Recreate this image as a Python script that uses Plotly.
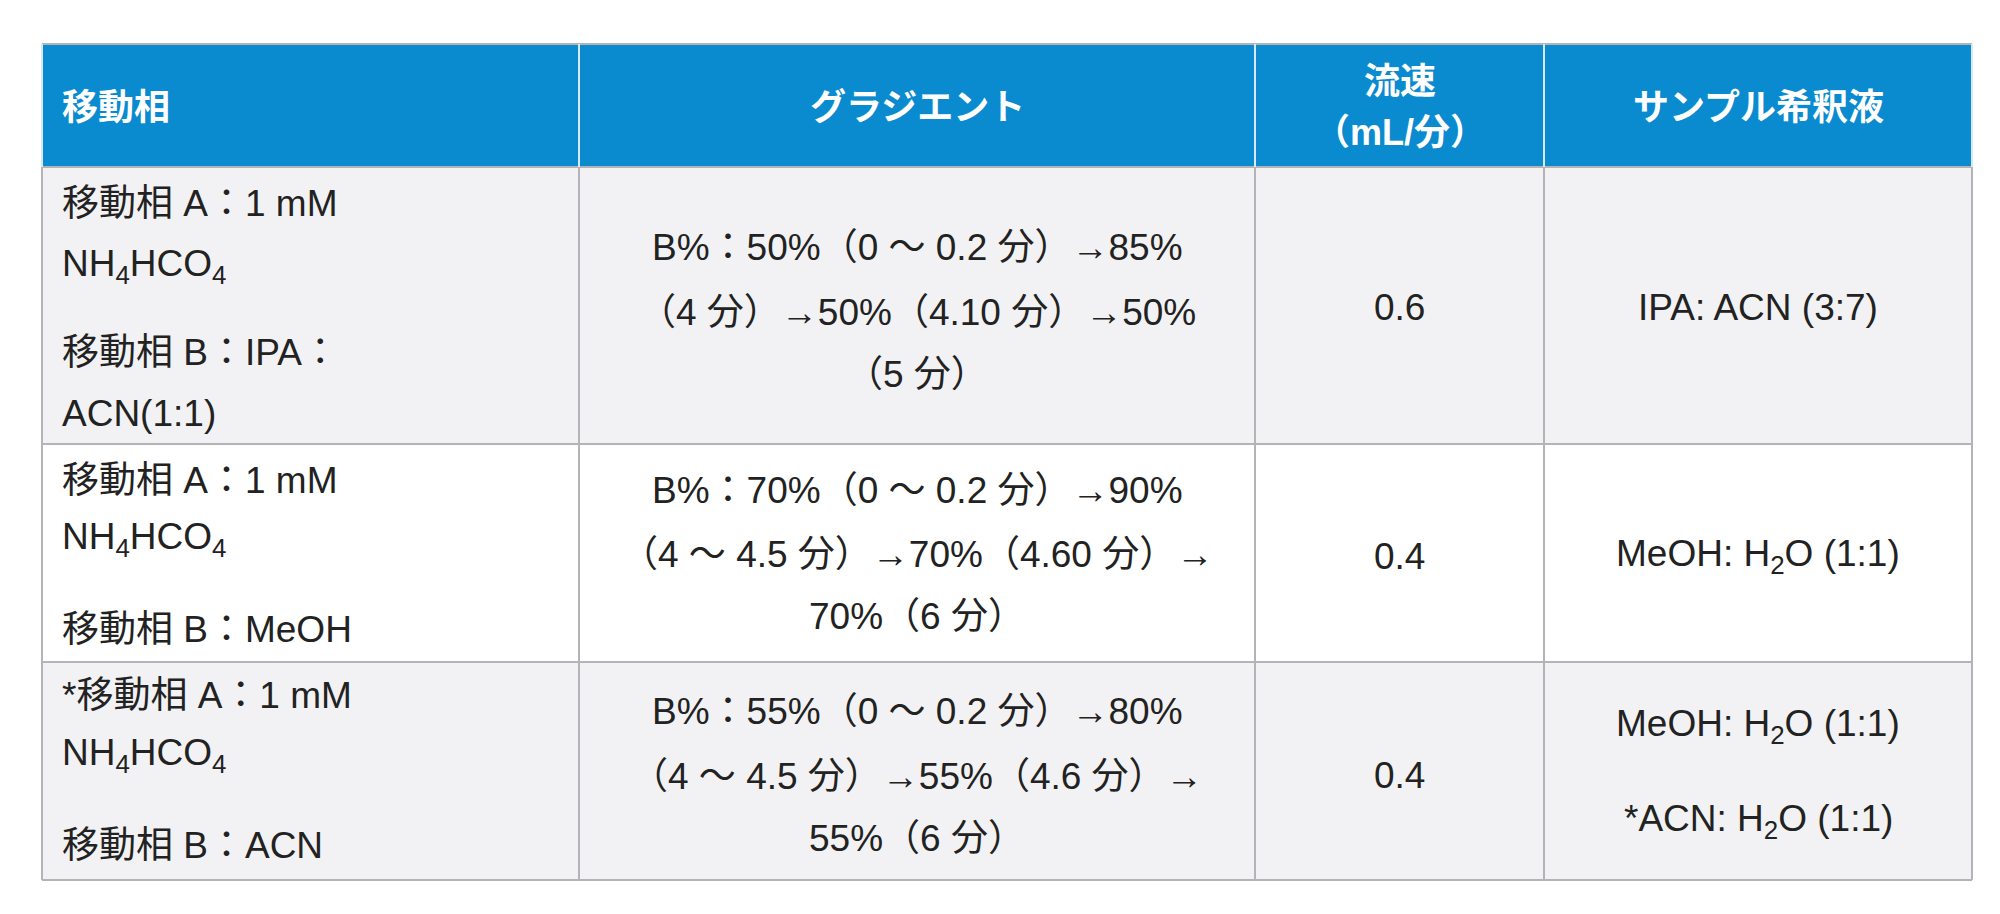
import plotly.graph_objects as go

W, H = 2000, 914
headers = [["移動相"], ["グラジエント"], ["流速", "（mL/分）"], ["サンプル希釈液"]]
mobile_phase = [
    ["移動相 A：1 mM", "NH<sub>4</sub>HCO<sub>4</sub>", "移動相 B：IPA：", "ACN(1:1)"],
    ["移動相 A：1 mM", "NH<sub>4</sub>HCO<sub>4</sub>", "移動相 B：MeOH"],
    ["*移動相 A：1 mM", "NH<sub>4</sub>HCO<sub>4</sub>", "移動相 B：ACN"],
]
gradient = [
    ["B%：50%（0 ～ 0.2 分）→85%", "（4 分）→50%（4.10 分）→50%", "（5 分）"],
    ["B%：70%（0 ～ 0.2 分）→90%", "（4 ～ 4.5 分）→70%（4.60 分）→", "70%（6 分）"],
    ["B%：55%（0 ～ 0.2 分）→80%", "（4 ～ 4.5 分）→55%（4.6 分）→", "55%（6 分）"],
]
flow = [["0.6"], ["0.4"], ["0.4"]]
diluent = [
    ["IPA: ACN (3:7)"],
    ["MeOH: H<sub>2</sub>O (1:1)"],
    ["MeOH: H<sub>2</sub>O (1:1)", "*ACN: H<sub>2</sub>O (1:1)"],
]

# layout (pixels)
col_x = [34, 571, 1247, 1536, 1964]
row_y = [36, 159, 436, 654, 872]
row_bg = ["#f2f2f4", "#ffffff", "#f2f2f4"]
header_lines_y = [[99], [99], [73, 125], [99]]
col1_y = [[195, 258, 344, 406], [472, 531, 621], [687, 747, 837]]
col2_y = [[239, 304, 367], [482, 546, 608], [703, 768, 830]]
col3_y = [[300], [548], [767]]
col4_y = [[300], [548], [718, 813]]

FONT = "Liberation Sans, Noto Sans CJK JP"
TXT = "#222222"
fig = go.Figure()
shapes, ann = [], []

def px(x): return x / W
def py(y): return 1 - y / H

shapes.append(dict(type="rect", xref="paper", yref="paper", x0=px(col_x[0]), x1=px(col_x[-1]),
                   y0=py(row_y[1]), y1=py(row_y[0]), fillcolor="#0a8acf", line=dict(width=0), layer="below"))
for r in range(3):
    shapes.append(dict(type="rect", xref="paper", yref="paper", x0=px(col_x[0]), x1=px(col_x[-1]),
                       y0=py(row_y[r + 2]), y1=py(row_y[r + 1]), fillcolor=row_bg[r], line=dict(width=0), layer="below"))
for y in row_y:
    shapes.append(dict(type="line", xref="paper", yref="paper", x0=px(col_x[0]), x1=px(col_x[-1]),
                       y0=py(y), y1=py(y), line=dict(color="#b4b4b8", width=2)))
for x in col_x:
    shapes.append(dict(type="line", xref="paper", yref="paper", x0=px(x), x1=px(x),
                       y0=py(row_y[-1]), y1=py(row_y[1]), line=dict(color="#b4b4b8", width=2)))
    shapes.append(dict(type="line", xref="paper", yref="paper", x0=px(x), x1=px(x),
                       y0=py(row_y[1]), y1=py(row_y[0]), line=dict(color="#d8e8f4", width=2)))

def add(text, x, y, align, size=37, color=TXT, bold=False):
    t = f"<b>{text}</b>" if bold else text
    ann.append(dict(text=t, x=px(x), y=py(y), xref="paper", yref="paper", showarrow=False,
                    xanchor=align, yanchor="middle", font=dict(family=FONT, size=size, color=color)))

for c, lines in enumerate(headers):
    for t, y in zip(lines, header_lines_y[c]):
        if c == 0:
            add(t, 52, y, "left", 36, "white", True)
        else:
            add(t, (col_x[c] + col_x[c + 1]) / 2, y, "center", 36, "white", True)

for r in range(3):
    for t, y in zip(mobile_phase[r], col1_y[r]):
        add(t, 52, y, "left")
    for t, y in zip(gradient[r], col2_y[r]):
        add(t, (col_x[1] + col_x[2]) / 2, y, "center")
    for t, y in zip(flow[r], col3_y[r]):
        add(t, (col_x[2] + col_x[3]) / 2, y, "center")
    for t, y in zip(diluent[r], col4_y[r]):
        add(t, (col_x[3] + col_x[4]) / 2, y, "center")

fig.update_layout(width=W, height=H, margin=dict(l=0, r=0, t=0, b=0),
                  paper_bgcolor="white", plot_bgcolor="white",
                  xaxis=dict(visible=False), yaxis=dict(visible=False),
                  shapes=shapes, annotations=ann)
fig.write_html("out.html")
